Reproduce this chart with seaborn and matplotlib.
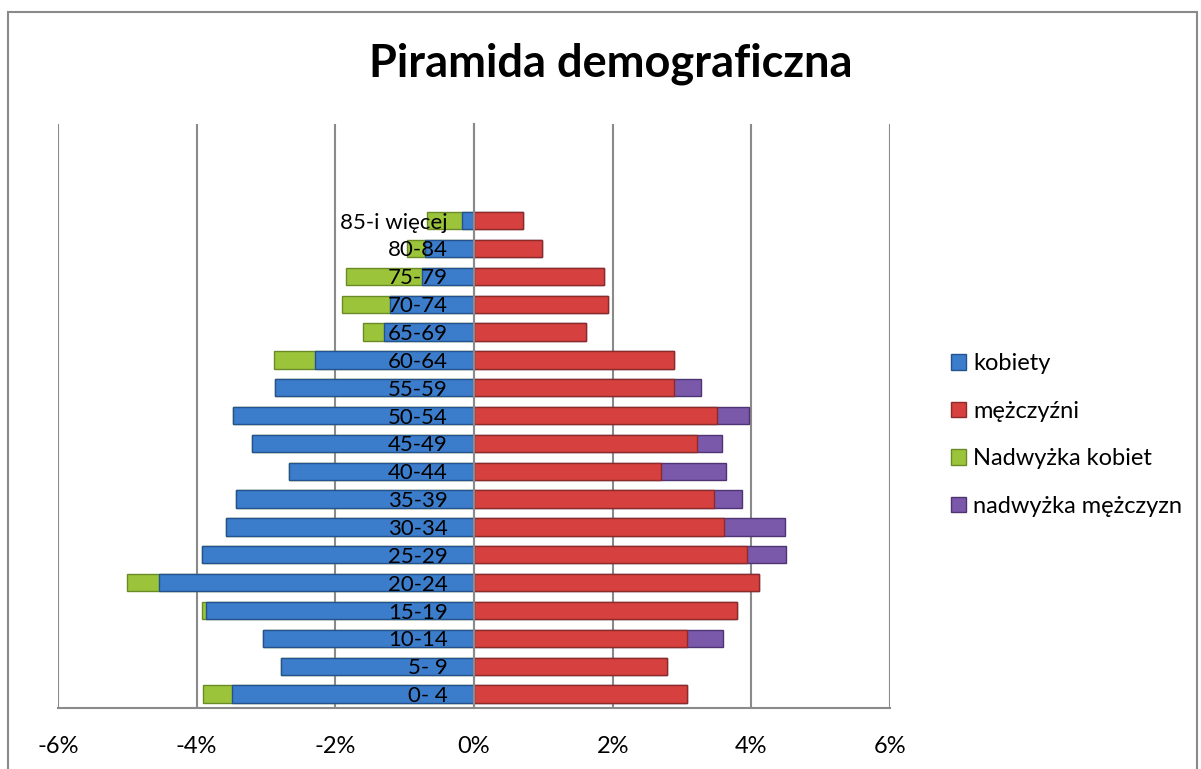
import matplotlib
matplotlib.use("Agg")
import matplotlib.pyplot as plt
import seaborn as sns
import pandas as pd
from matplotlib.patches import Rectangle
from matplotlib.ticker import FuncFormatter

# age groups, top of the pyramid first
age_groups = ["85-i więcej", "80-84", "75-79", "70-74", "65-69", "60-64", "55-59",
              "50-54", "45-49", "40-44", "35-39", "30-34", "25-29", "20-24",
              "15-19", "10-14", "5- 9", "0- 4"]
# shares in percent (left side shown as negative)
kobiety = [0.18, 0.70, 0.75, 1.21, 1.30, 2.30, 2.87, 3.48, 3.20, 2.67, 3.43, 3.57,
           3.93, 4.55, 3.86, 3.05, 2.78, 3.49]
nadwyzka_kobiet = [0.50, 0.26, 1.10, 0.70, 0.30, 0.58, 0, 0, 0, 0, 0, 0,
                   0, 0.46, 0.07, 0, 0.01, 0.42]
mezczyzni = [0.70, 0.98, 1.88, 1.93, 1.62, 2.89, 2.89, 3.51, 3.22, 2.69, 3.46, 3.60,
             3.94, 4.11, 3.80, 3.07, 2.79, 3.07]
nadwyzka_mezczyzn = [0, 0, 0, 0, 0, 0, 0.38, 0.46, 0.36, 0.95, 0.40, 0.88,
                     0.56, 0, 0, 0.52, 0, 0]
x_ticks = [-6, -4, -2, 0, 2, 4, 6]

colors = {"kobiety": "#3C7DCB", "mężczyźni": "#D6403E",
          "Nadwyżka kobiet": "#9BC43B", "nadwyżka mężczyzn": "#7A58AA"}
edges = {"kobiety": "#24528E", "mężczyźni": "#8E2A28",
         "Nadwyżka kobiet": "#6A8A26", "nadwyżka mężczyzn": "#4E3473"}

df = pd.DataFrame({
    "grupa": age_groups,
    "kob": [-v for v in kobiety],
    "kob_tot": [-(a + b) for a, b in zip(kobiety, nadwyzka_kobiet)],
    "mez": mezczyzni,
    "mez_tot": [a + b for a, b in zip(mezczyzni, nadwyzka_mezczyzn)],
})

sns.set_style("white")
plt.rcParams["font.family"] = ["Lato", "DejaVu Sans"]
plt.rcParams["text.color"] = "black"

fig = plt.figure(figsize=(12.01, 7.69), dpi=100)
ax = fig.add_axes([58 / 1201, 1 - 708 / 769, 832 / 1201, 584 / 769])

# stacked bars: draw totals first, base series on top
layers = [("kob_tot", "Nadwyżka kobiet"), ("kob", "kobiety"),
          ("mez_tot", "nadwyżka mężczyzn"), ("mez", "mężczyźni")]
for col, name in layers:
    sns.barplot(data=df, x=col, y="grupa", order=age_groups, orient="h",
                color=colors[name], edgecolor=edges[name], linewidth=1.0,
                saturation=1, width=0.62, errorbar=None, label=name, ax=ax,
                zorder=2)

ax.set_xlim(-6, 6)
ax.set_ylim(17.5, -3.47)
ax.set_xticks(x_ticks)
ax.xaxis.set_major_formatter(FuncFormatter(lambda v, p: f"{v:.0f}%"))
ax.set_xlabel("")
ax.set_ylabel("")

ax.grid(axis="x", color="#8A8A8A", linewidth=1.5)
ax.grid(axis="y", visible=False)
ax.xaxis.set_zorder(0.5)
ax.yaxis.set_zorder(5)

for s in ["top", "right"]:
    ax.spines[s].set_visible(False)
ax.spines["left"].set_position(("data", 0))
ax.spines["left"].set_color("#8A8A8A")
ax.spines["left"].set_linewidth(1.5)
ax.spines["left"].set_zorder(4)
ax.spines["bottom"].set_color("#8A8A8A")
ax.spines["bottom"].set_linewidth(1.5)

ax.tick_params(axis="x", length=0, pad=20, labelsize=17, labelcolor="black")
ax.tick_params(axis="y", length=0, pad=19, labelsize=16, labelcolor="black")

# legend in the order of the original, outside the plot area
handles, labels = ax.get_legend_handles_labels()
if ax.get_legend() is not None:
    ax.get_legend().remove()
hmap = dict(zip(labels, handles))
order = ["kobiety", "mężczyźni", "Nadwyżka kobiet", "nadwyżka mężczyzn"]
fig.legend([hmap[k] for k in order], order, loc="center left",
           bbox_to_anchor=(930 / 1201, 1 - 435 / 769), frameon=False,
           fontsize=17, handlelength=0.62, handleheight=0.62,
           handletextpad=0.3, labelspacing=1.12)

fig.text(611 / 1201, 1 - 64 / 769, "Piramida demograficzna", ha="center",
         va="center", fontsize=32.5, fontweight="bold", color="black")

fig.patches.append(Rectangle((8 / 1201, -0.05), 1189 / 1201, 1.05 - 12 / 769,
                             transform=fig.transFigure, fill=False,
                             edgecolor="#8A8A8A", linewidth=1.5))

fig.savefig("out.png", dpi=100, facecolor="white")
